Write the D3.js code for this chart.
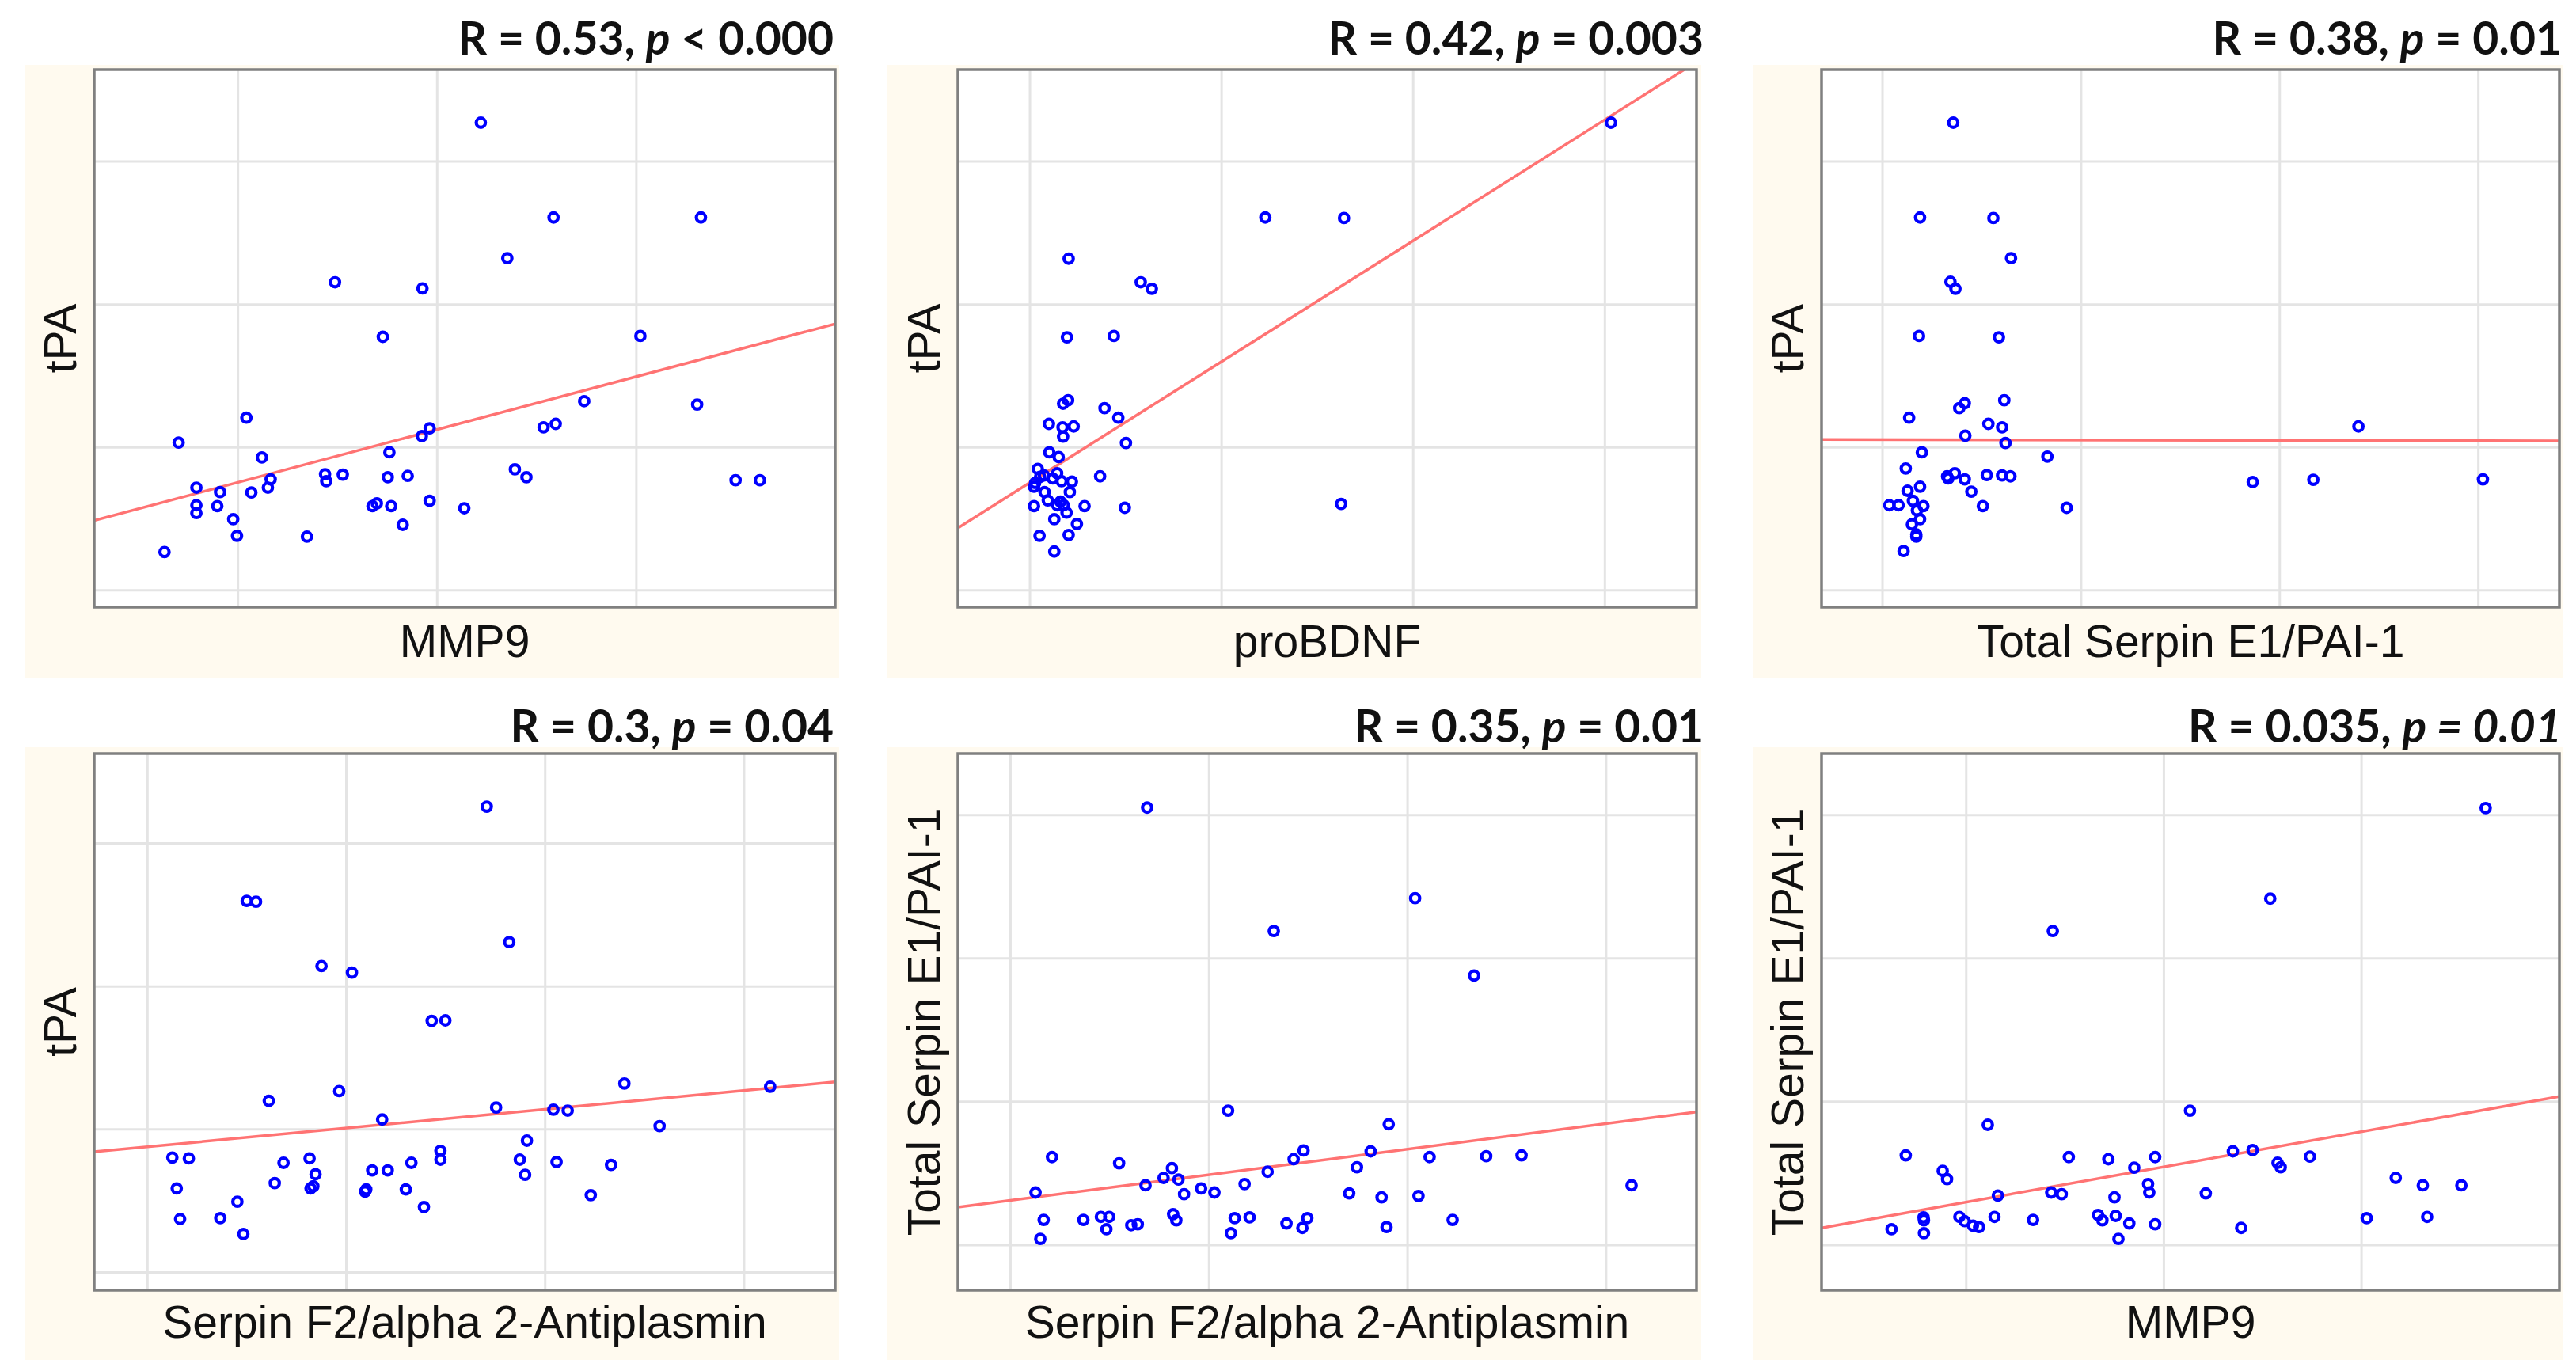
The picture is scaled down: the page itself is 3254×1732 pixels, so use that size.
<!DOCTYPE html>
<html>
<head>
<meta charset="utf-8">
<script src="https://cdn.jsdelivr.net/npm/d3@7"></script>
<style>
  body { margin: 0; background: #fff; }
</style>
</head>
<body>
<div class="canvas"></div>
<script>
// values, in grid units (axes carry no tick labels)
// panel A: tPA vs MMP9
const mmp9A = [2.221, 2.586, 3.326, 2.354, 1.489, 1.928, 1.729, 3.022, 2.740, 3.307, 1.044, 1.964, 1.925, 2.536, 2.597,
  0.704, 1.762, 1.122, 2.392, 2.450, 1.439, 1.445, 1.528, 1.754, 1.854, 3.500, 3.622, 0.793, 0.912, 1.069,
  1.166, 1.152, 0.793, 0.793, 0.898, 0.978, 0.997, 1.348, 1.677, 1.699, 1.771, 1.964, 2.138, 1.829, 0.633];
const tpaA = [3.269, 2.606, 2.606, 2.321, 2.153, 2.110, 1.771, 1.777, 1.321, 1.297, 1.205, 1.131, 1.076, 1.138, 1.162,
  1.031, 0.963, 0.927, 0.844, 0.789, 0.810, 0.761, 0.807, 0.789, 0.798, 0.768, 0.768, 0.716, 0.685, 0.682,
  0.774, 0.716, 0.593, 0.538, 0.587, 0.495, 0.379, 0.373, 0.587, 0.606, 0.587, 0.624, 0.572, 0.456, 0.266];

// panel B: tPA vs proBDNF
const probdnfB = [4.034, 2.230, 2.641, 1.204, 1.580, 1.638, 1.195, 1.440, 1.201, 1.175, 1.391, 1.463, 1.101, 1.172, 1.230,
  1.175, 1.503, 1.103, 1.152, 1.043, 1.075, 1.144, 1.121, 1.167, 1.221, 1.368, 1.023, 1.078, 1.210, 1.095,
  1.023, 1.144, 1.178, 1.287, 1.497, 2.626, 1.193, 1.129, 1.247, 1.052, 1.204, 1.129, 1.055, 1.029, 1.161];
const tpaB = [3.269, 2.606, 2.602, 2.318, 2.153, 2.107, 1.768, 1.777, 1.327, 1.303, 1.272, 1.205, 1.162, 1.138, 1.144,
  1.073, 1.028, 0.963, 0.930, 0.847, 0.801, 0.817, 0.780, 0.761, 0.758, 0.795, 0.722, 0.685, 0.685, 0.627,
  0.587, 0.593, 0.593, 0.587, 0.575, 0.602, 0.541, 0.495, 0.462, 0.379, 0.385, 0.269, 0.792, 0.749, 0.618];

// panel C: tPA vs Total Serpin E1/PAI-1
const serpinE1C = [1.358, 1.191, 1.560, 1.649, 1.344, 1.369, 1.186, 1.588, 1.615, 1.416, 1.388, 1.136, 1.535, 1.604, 3.398,
  1.419, 1.621, 1.200, 1.832, 1.119, 1.366, 1.327, 1.333, 1.416, 1.527, 1.604, 1.646, 2.866, 3.171, 4.025,
  1.191, 1.128, 1.449, 1.036, 1.083, 1.155, 1.208, 1.175, 1.507, 1.929, 1.191, 1.150, 1.172, 1.172, 1.108];
const tpaC = [3.269, 2.606, 2.602, 2.321, 2.156, 2.107, 1.777, 1.768, 1.327, 1.306, 1.272, 1.205, 1.162, 1.138, 1.144,
  1.080, 1.028, 0.963, 0.933, 0.850, 0.817, 0.795, 0.780, 0.774, 0.804, 0.801, 0.795, 0.755, 0.771, 0.774,
  0.722, 0.694, 0.688, 0.593, 0.593, 0.624, 0.587, 0.557, 0.587, 0.575, 0.495, 0.459, 0.388, 0.373, 0.272];

// panel D: tPA vs Serpin F2/alpha 2-Antiplasmin
const serpinF2D = [2.708, 1.501, 1.548, 2.821, 1.877, 2.030, 2.431, 2.500, 3.400, 4.133, 1.966, 1.612, 2.755, 3.043, 3.115,
  2.182, 3.577, 2.910, 2.475, 2.475, 1.127, 1.210, 1.686, 1.817, 2.329, 2.874, 3.059, 3.333, 1.847, 2.132,
  2.210, 2.901, 1.149, 1.642, 1.822, 1.836, 2.102, 2.096, 2.301, 3.231, 1.454, 2.392, 1.166, 1.368, 1.484];
const tpaD = [3.254, 2.595, 2.589, 2.307, 2.140, 2.094, 1.757, 1.760, 1.318, 1.296, 1.265, 1.197, 1.151, 1.135, 1.129,
  1.067, 1.021, 0.919, 0.848, 0.786, 0.801, 0.795, 0.764, 0.795, 0.764, 0.786, 0.770, 0.749, 0.684, 0.711,
  0.711, 0.680, 0.585, 0.622, 0.585, 0.600, 0.578, 0.563, 0.578, 0.538, 0.492, 0.455, 0.371, 0.377, 0.266];

// panel E: Total Serpin E1/PAI-1 vs Serpin F2/alpha 2-Antiplasmin
const serpinF2E = [1.690, 3.040, 2.328, 3.337, 2.098, 2.907, 2.478, 2.816, 1.211, 1.549, 3.113, 3.398, 3.576, 2.428, 1.815,
  2.747, 2.297, 1.773, 1.848, 1.682, 2.181, 4.130, 1.128, 1.876, 1.962, 2.029, 2.708, 2.871, 3.057, 1.169,
  1.369, 1.457, 1.499, 1.485, 1.610, 1.643, 1.821, 1.837, 2.131, 2.206, 2.392, 2.472, 2.497, 2.112, 2.896,
  3.229, 1.152];
const serpinE1E = [3.049, 2.417, 2.188, 1.877, 0.935, 0.840, 0.657, 0.651, 0.611, 0.568, 0.611, 0.617, 0.623, 0.596, 0.534,
  0.540, 0.509, 0.466, 0.454, 0.414, 0.423, 0.414, 0.364, 0.352, 0.392, 0.364, 0.358, 0.330, 0.340, 0.173,
  0.173, 0.194, 0.194, 0.108, 0.136, 0.142, 0.213, 0.170, 0.185, 0.191, 0.148, 0.117, 0.185, 0.080, 0.123,
  0.173, 0.040];

// panel F: Total Serpin E1/PAI-1 vs MMP9
const mmp9F = [3.630, 2.540, 1.440, 2.134, 1.111, 0.696, 1.521, 1.721, 1.958, 2.351, 2.451, 2.741, 1.852, 0.883, 0.905,
  2.577, 2.593, 3.175, 3.312, 3.507, 1.922, 1.928, 1.432, 1.485, 1.162, 1.752, 2.214, 0.786, 0.788, 0.624,
  0.788, 0.967, 0.994, 1.036, 1.067, 1.145, 1.340, 1.669, 1.691, 1.758, 1.827, 1.958, 1.772, 2.393, 3.028,
  3.334];
const serpinE1F = [3.046, 2.414, 2.188, 0.935, 0.836, 0.623, 0.611, 0.596, 0.611, 0.651, 0.660, 0.614, 0.537, 0.515, 0.457,
  0.571, 0.540, 0.466, 0.414, 0.414, 0.423, 0.364, 0.364, 0.352, 0.343, 0.330, 0.358, 0.191, 0.170, 0.108,
  0.080, 0.194, 0.164, 0.133, 0.123, 0.194, 0.173, 0.207, 0.170, 0.201, 0.148, 0.142, 0.040, 0.117, 0.185,
  0.194];

// regression lines as drawn (y = a + b*x, grid units)
const fitIntercepts = [0.382, -0.096, 1.054, 0.745, 0.130, 0.051];
const fitSlopes = [0.370, 0.846, -0.0024, 0.131, 0.1785, 0.2456];

// headings and axis titles
const rValues = ['0.53', '0.42', '0.38', '0.3', '0.35', '0.035'];
const pSigns = ['<', '=', '=', '=', '=', '='];
const pValues = ['0.000', '0.003', '0.01', '0.04', '0.01', '0.01'];
const xLabels = ['MMP9', 'proBDNF', 'Total Serpin E1/PAI-1', 'Serpin F2/alpha 2-Antiplasmin', 'Serpin F2/alpha 2-Antiplasmin', 'MMP9'];
const yLabels = ['tPA', 'tPA', 'tPA', 'tPA', 'Total Serpin E1/PAI-1', 'Total Serpin E1/PAI-1'];

// grid positions and visible ranges
const xTicks = [[1, 2, 3], [1, 2, 3, 4], [1, 2, 3, 4], [1, 2, 3, 4], [1, 2, 3, 4], [1, 2, 3]];
const xDomains = [[0.28, 4.0], [0.626, 4.48], [0.695, 4.41], [0.734, 4.46], [0.737, 4.457], [0.27, 4.003]];
const yTicks = [[0, 1, 2, 3], [0, 1, 2, 3], [0, 1, 2, 3], [0, 1, 2, 3], [0, 1, 2, 3], [0, 1, 2, 3]];
const yDomains = [[-0.12, 3.64], [-0.12, 3.64], [-0.12, 3.64], [-0.127, 3.625], [-0.318, 3.426], [-0.318, 3.426]];

const panelX = [mmp9A, probdnfB, serpinE1C, serpinF2D, serpinF2E, mmp9F];
const panelY = [tpaA, tpaB, tpaC, tpaD, serpinE1E, serpinE1F];

// page layout (pixels)
const W = 3254, H = 1732;
const cols = [{l: 119, r: 1055, bgL: 31, bgR: 1060, tR: 1053},
              {l: 1210, r: 2143, bgL: 1120, bgR: 2149, tR: 2152},
              {l: 2301, r: 3233, bgL: 2214, bgR: 3238, tR: 3236}];
const rows = [{t: 88, b: 767, bgT: 82, bgB: 856, title: 69, xlab: 830},
              {t: 952, b: 1630, bgT: 944, bgB: 1718, title: 938, xlab: 1690}];

const svg = d3.select('.canvas')
    .append('svg')
    .attr('width', W)
    .attr('height', H)
    .style('display', 'block');

svg.append('rect').attr('width', W).attr('height', H).attr('fill', '#fff');

const defs = svg.append('defs');

panelX.forEach((xs, i) => {
    const col = cols[i % 3], row = rows[Math.floor(i / 3)];
    const ys = panelY[i];

    const x = d3.scaleLinear().domain(xDomains[i]).range([col.l, col.r]);
    const y = d3.scaleLinear().domain(yDomains[i]).range([row.b, row.t]);

    // cream backing behind each plot
    svg.append('rect')
        .attr('x', col.bgL).attr('y', row.bgT)
        .attr('width', col.bgR - col.bgL).attr('height', row.bgB - row.bgT)
        .attr('fill', '#fffaef');

    svg.append('rect')
        .attr('x', col.l).attr('y', row.t)
        .attr('width', col.r - col.l).attr('height', row.b - row.t)
        .attr('fill', '#fff');

    const g = svg.append('g');

    // grid lines via axes with full-length ticks and no labels
    g.append('g')
        .attr('transform', `translate(0, ${row.b})`)
        .call(d3.axisBottom(x).tickValues(xTicks[i]).tickSize(-(row.b - row.t)).tickFormat(''))
        .call(a => a.select('.domain').remove())
        .selectAll('line').attr('stroke', '#e4e4e4').attr('stroke-width', 3);

    g.append('g')
        .attr('transform', `translate(${col.l}, 0)`)
        .call(d3.axisLeft(y).tickValues(yTicks[i]).tickSize(-(col.r - col.l)).tickFormat(''))
        .call(a => a.select('.domain').remove())
        .selectAll('line').attr('stroke', '#e4e4e4').attr('stroke-width', 3);

    // regression line, clipped to the plot box
    const clipId = 'clip' + i;
    defs.append('clipPath').attr('id', clipId)
        .append('rect')
        .attr('x', col.l).attr('y', row.t)
        .attr('width', col.r - col.l).attr('height', row.b - row.t);

    const fitLine = d3.line()
        .x(d => x(d))
        .y(d => y(fitIntercepts[i] + fitSlopes[i] * d));

    g.append('path')
        .datum(xDomains[i])
        .attr('clip-path', `url(#${clipId})`)
        .attr('fill', 'none')
        .attr('stroke', '#ff7373')
        .attr('stroke-width', 3.5)
        .attr('d', fitLine);

    // points
    g.selectAll('circle')
        .data(xs.map((v, k) => [v, ys[k]]))
        .join('circle')
        .attr('cx', d => x(d[0]))
        .attr('cy', d => y(d[1]))
        .attr('r', 5.8)
        .attr('fill', 'none')
        .attr('stroke', '#0000ff')
        .attr('stroke-width', 4.2);

    // frame
    g.append('rect')
        .attr('x', col.l).attr('y', row.t)
        .attr('width', col.r - col.l).attr('height', row.b - row.t)
        .attr('fill', 'none')
        .attr('stroke', '#808080')
        .attr('stroke-width', 3.5);

    // heading: R and p
    const t = svg.append('text')
        .attr('x', col.tR).attr('y', row.title)
        .attr('text-anchor', 'end')
        .attr('font-family', 'Lato, "Open Sans", sans-serif')
        .attr('font-weight', 'bold')
        .attr('font-size', 57)
        .attr('fill', '#111');
    t.append('tspan').text(`R = ${rValues[i]}, `);
    t.append('tspan').attr('font-style', 'italic').text('p');
    if (i === 5) {
        t.append('tspan').attr('font-style', 'italic').text(` ${pSigns[i]} ${pValues[i]}`);
    } else {
        t.append('tspan').text(` ${pSigns[i]} ${pValues[i]}`);
    }

    // axis titles
    svg.append('text')
        .attr('x', (col.l + col.r) / 2).attr('y', row.xlab)
        .attr('text-anchor', 'middle')
        .attr('font-family', '"Liberation Sans", Arial, sans-serif')
        .attr('font-size', 57)
        .attr('fill', '#111')
        .text(xLabels[i]);

    svg.append('text')
        .attr('transform', `translate(${col.l - 23}, ${(row.t + row.b) / 2}) rotate(-90)`)
        .attr('text-anchor', 'middle')
        .attr('font-family', '"Liberation Sans", Arial, sans-serif')
        .attr('font-size', 57)
        .attr('fill', '#111')
        .text(yLabels[i]);
});
</script>
</body>
</html>
